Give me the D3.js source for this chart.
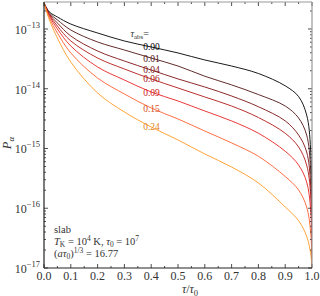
<!DOCTYPE html>
<html>
<head>
<meta charset="utf-8">
<script src="https://cdn.jsdelivr.net/npm/d3@7"></script>
<style>
  body { margin: 0; background: #fff; }
  svg text { font-family: "Liberation Serif", "DejaVu Serif", serif; }
</style>
</head>
<body>
<div id="chart-area"></div>
<script>
// tau / tau0 sample points
const tau = [0, 0.02, 0.05, 0.1, 0.2, 0.3, 0.4, 0.5, 0.6, 0.7, 0.8, 0.9, 0.95, 0.98, 0.995, 1];

// P_alpha for each tau_abs
const p000 = [2.72e-13, 1.93e-13, 1.59e-13, 1.21e-13, 8.57e-14, 6.30e-14, 5.0e-14, 3.97e-14, 3.03e-14, 2.40e-14, 1.80e-14, 1.12e-14, 7.40e-15, 3.64e-15, 9.44e-16, 1e-17];
const p001 = [2.72e-13, 1.85e-13, 1.42e-13, 9.62e-14, 6.06e-14, 4.45e-14, 3.27e-14, 2.40e-14, 1.62e-14, 1.16e-14, 8.00e-15, 5.14e-15, 3.24e-15, 1.68e-15, 4.37e-16, 1e-17];
const p004 = [2.72e-13, 1.78e-13, 1.26e-13, 7.63e-14, 4.28e-14, 2.91e-14, 2.06e-14, 1.46e-14, 1.07e-14, 7.56e-15, 5.00e-15, 2.90e-15, 1.68e-15, 8.74e-16, 2.45e-16, 1e-17];
const p006 = [2.72e-13, 1.72e-13, 1.12e-13, 6.30e-14, 3.27e-14, 2.14e-14, 1.46e-14, 1.03e-14, 7.28e-15, 5.14e-15, 3.30e-15, 1.80e-15, 1.06e-15, 5.29e-16, 1.67e-16, 1e-17];
const p009 = [2.72e-13, 1.65e-13, 1.0e-13, 5.19e-14, 2.31e-14, 1.40e-14, 8.82e-15, 6.24e-15, 4.24e-15, 2.89e-15, 1.80e-15, 9.00e-16, 5.29e-16, 2.75e-16, 9.35e-17, 1e-17];
const p015 = [2.72e-13, 1.53e-13, 8.57e-14, 3.97e-14, 1.51e-14, 8.17e-15, 4.76e-15, 3.12e-15, 1.96e-15, 1.24e-15, 7.40e-16, 3.40e-16, 2.02e-16, 1.05e-16, 4.0e-17, 1e-17];
const p024 = [2.72e-13, 1.42e-13, 7.07e-14, 2.80e-14, 8.49e-15, 4.08e-15, 2.29e-15, 1.39e-15, 8.09e-16, 4.90e-16, 2.65e-16, 1.05e-16, 6.20e-17, 3.40e-17, 1.75e-17, 1e-17];

const tauAbsLabels = ["0.00", "0.01", "0.04", "0.06", "0.09", "0.15", "0.24"];
const seriesValues = [p000, p001, p004, p006, p009, p015, p024];
const colors = ["#000000", "#4f1414", "#7d1212", "#b01818", "#e82222", "#ff5f2e", "#ff9a22"];
const labelColors = ["#000000", "#4f1414", "#7d1212", "#a81414", "#d01a1a", "#d8501e", "#e08418"];

const xTicks = [0, 0.1, 0.2, 0.3, 0.4, 0.5, 0.6, 0.7, 0.8, 0.9, 1.0];
const yExponents = [-13, -14, -15, -16, -17];

// layout
const width = 320, height = 296;
const plot = { left: 44, right: 312, top: 2, bottom: 268 };

const svg = d3.select("#chart-area")
  .append("svg")
  .attr("width", width)
  .attr("height", height);

const x = d3.scaleLinear().domain([0, 1]).range([plot.left, plot.right]);
const y = d3.scaleLog().domain([1e-17, 2.83e-13]).range([plot.bottom, plot.top]);

svg.append("clipPath").attr("id", "clip")
  .append("rect")
  .attr("x", plot.left).attr("y", plot.top)
  .attr("width", plot.right - plot.left).attr("height", plot.bottom - plot.top);

// curves
const line = d3.line()
  .x((d, i) => x(tau[i]))
  .y(d => y(d))
  .curve(d3.curveCatmullRom.alpha(0.5));

svg.append("g").attr("clip-path", "url(#clip)")
  .selectAll("path")
  .data(seriesValues)
  .join("path")
  .attr("d", line)
  .attr("fill", "none")
  .attr("stroke", (d, i) => colors[i])
  .attr("stroke-width", 0.9);

// tick marks (inward on all four sides)
const ticks = svg.append("g").attr("stroke", "#222").attr("stroke-width", 0.8);
const xMinor = d3.range(0.05, 1, 0.1);
xTicks.forEach(t => {
  ticks.append("line").attr("x1", x(t)).attr("x2", x(t)).attr("y1", plot.bottom).attr("y2", plot.bottom - 4);
  ticks.append("line").attr("x1", x(t)).attr("x2", x(t)).attr("y1", plot.top).attr("y2", plot.top + 4);
});
xMinor.forEach(t => {
  ticks.append("line").attr("x1", x(t)).attr("x2", x(t)).attr("y1", plot.bottom).attr("y2", plot.bottom - 2);
  ticks.append("line").attr("x1", x(t)).attr("x2", x(t)).attr("y1", plot.top).attr("y2", plot.top + 2);
});
const yMinor = [];
for (let e = -17; e <= -13; e++) {
  for (let m = 2; m <= 9; m++) {
    const v = m * Math.pow(10, e);
    if (v <= 2.83e-13) yMinor.push(v);
  }
}
yExponents.forEach(e => {
  const yy = y(Math.pow(10, e));
  ticks.append("line").attr("x1", plot.left).attr("x2", plot.left + 4).attr("y1", yy).attr("y2", yy);
  ticks.append("line").attr("x1", plot.right).attr("x2", plot.right - 4).attr("y1", yy).attr("y2", yy);
});
yMinor.forEach(v => {
  const yy = y(v);
  ticks.append("line").attr("x1", plot.left).attr("x2", plot.left + 2).attr("y1", yy).attr("y2", yy);
  ticks.append("line").attr("x1", plot.right).attr("x2", plot.right - 2).attr("y1", yy).attr("y2", yy);
});

// spines
svg.append("line").attr("x1", plot.left).attr("x2", plot.right).attr("y1", plot.top).attr("y2", plot.top)
  .attr("stroke", "#999").attr("stroke-width", 1.2);
svg.append("line").attr("x1", plot.right).attr("x2", plot.right).attr("y1", plot.top).attr("y2", plot.bottom)
  .attr("stroke", "#999").attr("stroke-width", 1.2);
svg.append("line").attr("x1", plot.left).attr("x2", plot.right).attr("y1", plot.bottom).attr("y2", plot.bottom)
  .attr("stroke", "#222").attr("stroke-width", 1.2);
svg.append("line").attr("x1", plot.left).attr("x2", plot.left).attr("y1", plot.top).attr("y2", plot.bottom)
  .attr("stroke", "#222").attr("stroke-width", 1.2);

// x tick labels
svg.append("g").selectAll("text")
  .data(xTicks)
  .join("text")
  .attr("x", d => x(d))
  .attr("y", plot.bottom + 12)
  .attr("text-anchor", "middle")
  .attr("font-size", 12)
  .attr("fill", "#333")
  .text(d => d.toFixed(1));

// y tick labels
const yl = svg.append("g").selectAll("text")
  .data(yExponents)
  .join("text")
  .attr("x", plot.left - 4)
  .attr("y", d => y(Math.pow(10, d)) + 5)
  .attr("text-anchor", "end")
  .attr("font-size", 12)
  .attr("fill", "#333");
yl.append("tspan").text("10");
yl.append("tspan").attr("dy", -6).attr("font-size", 8.5).text(d => "\u2212" + Math.abs(d));

// axis titles
const xt = svg.append("text")
  .attr("x", 190)
  .attr("y", 293)
  .attr("text-anchor", "middle")
  .attr("font-size", 12)
  .attr("fill", "#333");
xt.append("tspan").attr("font-style", "italic").text("\u03c4");
xt.append("tspan").text("/");
xt.append("tspan").attr("font-style", "italic").text("\u03c4");
xt.append("tspan").attr("dy", 2.5).attr("font-size", 8.5).text("0");

const yt = svg.append("text")
  .attr("transform", `translate(11,143) rotate(-90)`)
  .attr("text-anchor", "middle")
  .attr("font-size", 12.5)
  .attr("fill", "#333");
yt.append("tspan").attr("font-style", "italic").text("P");
yt.append("tspan").attr("dy", 3).attr("font-size", 9).attr("font-style", "italic").text("\u03b1");

// tau_abs legend on the curves
const lt = svg.append("text")
  .attr("x", 149)
  .attr("y", 37)
  .attr("text-anchor", "end")
  .attr("font-size", 10)
  .attr("fill", "#333");
lt.append("tspan").attr("font-style", "italic").text("\u03c4");
lt.append("tspan").attr("dy", 2).attr("font-size", 7).text("abs");
lt.append("tspan").attr("dy", -2).text("=");

const labelIdx = tau.indexOf(0.4);
svg.append("g").selectAll("text")
  .data(tauAbsLabels)
  .join("text")
  .attr("x", x(0.37))
  .attr("y", (d, i) => y(seriesValues[i][labelIdx]) + 3.5)
  .attr("font-size", 9.5)
  .attr("fill", (d, i) => labelColors[i])
  .text(d => d);

// info box
const info = svg.append("g").attr("font-size", 10.5).attr("fill", "#333");
info.append("text").attr("x", 54).attr("y", 233).text("slab");
const l2 = info.append("text").attr("x", 54).attr("y", 245);
l2.append("tspan").attr("font-style", "italic").text("T");
l2.append("tspan").attr("dy", 2).attr("font-size", 7.5).text("K");
l2.append("tspan").attr("dy", -2).text(" = 10");
l2.append("tspan").attr("dy", -4).attr("font-size", 7.5).text("4");
l2.append("tspan").attr("dy", 4).text(" K, ");
l2.append("tspan").attr("font-style", "italic").text("\u03c4");
l2.append("tspan").attr("dy", 2).attr("font-size", 7.5).text("0");
l2.append("tspan").attr("dy", -2).text(" = 10");
l2.append("tspan").attr("dy", -4).attr("font-size", 7.5).text("7");
const l3 = info.append("text").attr("x", 54).attr("y", 257);
l3.append("tspan").text("(");
l3.append("tspan").attr("font-style", "italic").text("a\u03c4");
l3.append("tspan").attr("dy", 2).attr("font-size", 7.5).text("0");
l3.append("tspan").attr("dy", -2).text(")");
l3.append("tspan").attr("dy", -4).attr("font-size", 7.5).text("1/3");
l3.append("tspan").attr("dy", 4).text(" = 16.77");
</script>
</body>
</html>
